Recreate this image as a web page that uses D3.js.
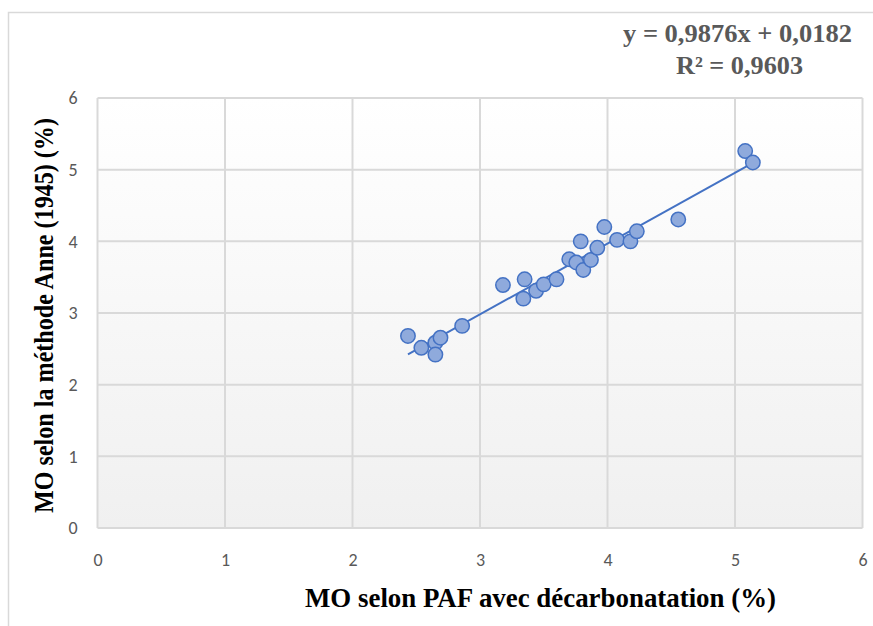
<!DOCTYPE html>
<html>
<head>
<meta charset="utf-8">
<script src="https://cdn.jsdelivr.net/npm/d3@7"></script>
<style>
  body { margin: 0; background: #fff; }
  svg { display: block; }
</style>
</head>
<body>
<svg id="chart"></svg>
<script>
// MO selon PAF avec décarbonatation (%)
const pafValues = [2.435, 2.54, 2.65, 2.69, 2.65, 2.86, 3.18, 3.35, 3.34, 3.44, 3.50, 3.60, 3.70,
  3.755, 3.81, 3.87, 3.79, 3.92, 3.975, 4.075, 4.18, 4.23, 4.555, 5.08, 5.14];
// MO selon la méthode Anne (1945) (%)
const anneValues = [2.68, 2.515, 2.585, 2.655, 2.42, 2.82, 3.39, 3.47, 3.20, 3.31, 3.40, 3.47, 3.75,
  3.705, 3.60, 3.74, 4.00, 3.91, 4.20, 4.02, 4.00, 4.14, 4.305, 5.26, 5.10];
const xTicks = [0, 1, 2, 3, 4, 5, 6];
const yTicks = [0, 1, 2, 3, 4, 5, 6];
const slope = 0.9876;
const intercept = 0.0182;
const eqLines = ['y = 0,9876x + 0,0182', 'R² = 0,9603'];

const W = 873, H = 626;
const plot = { left: 97.5, right: 862.5, top: 98, bottom: 528 };
const serif = '"Liberation Serif", "Times New Roman", serif';

const svg = d3.select('#chart').attr('width', W).attr('height', H);

// chart area border
svg.append('rect')
  .attr('x', 8.5).attr('y', 12.5)
  .attr('width', W + 20).attr('height', H + 20)
  .attr('fill', '#fff')
  .attr('stroke', '#d9d9d9')
  .attr('stroke-width', 1.5);

const defs = svg.append('defs');
const grad = defs.append('linearGradient')
  .attr('id', 'bg').attr('x1', 0).attr('y1', 0).attr('x2', 0).attr('y2', 1);
grad.append('stop').attr('offset', '0%').attr('stop-color', '#ffffff');
grad.append('stop').attr('offset', '100%').attr('stop-color', '#f0f0f0');

const x = d3.scaleLinear().domain([0, 6]).range([plot.left, plot.right]);
const y = d3.scaleLinear().domain([0, 6]).range([plot.bottom, plot.top]);

// plot background
svg.append('rect')
  .attr('x', plot.left).attr('y', plot.top)
  .attr('width', plot.right - plot.left).attr('height', plot.bottom - plot.top)
  .attr('fill', 'url(#bg)');

// grid
svg.append('g')
  .selectAll('line')
  .data(xTicks)
  .enter()
  .append('line')
  .attr('x1', d => x(d)).attr('x2', d => x(d))
  .attr('y1', plot.top).attr('y2', plot.bottom)
  .attr('stroke', '#d9d9d9').attr('stroke-width', 2);

svg.append('g')
  .selectAll('line')
  .data(yTicks)
  .enter()
  .append('line')
  .attr('x1', plot.left).attr('x2', plot.right)
  .attr('y1', d => y(d)).attr('y2', d => y(d))
  .attr('stroke', '#d9d9d9').attr('stroke-width', 2);

// axes (labels only, Excel style)
const xAxis = svg.append('g')
  .attr('transform', `translate(0, ${plot.bottom})`)
  .call(d3.axisBottom(x).tickValues(xTicks).tickSize(0).tickPadding(25).tickFormat(d3.format('d')));
const yAxis = svg.append('g')
  .attr('transform', `translate(${plot.left}, 0)`)
  .call(d3.axisLeft(y).tickValues(yTicks).tickSize(0).tickPadding(20).tickFormat(d3.format('d')));

[xAxis, yAxis].forEach(a => {
  a.select('.domain').remove();
  a.selectAll('text')
    .attr('fill', '#595959')
    .style('font-family', 'Carlito, "Open Sans", "Liberation Sans", sans-serif')
    .style('font-size', '18px');
});

// trendline
const xMin = d3.min(pafValues), xMax = d3.max(pafValues);
svg.append('line')
  .attr('x1', x(xMin)).attr('y1', y(slope * xMin + intercept))
  .attr('x2', x(xMax)).attr('y2', y(slope * xMax + intercept))
  .attr('stroke', '#4472c4').attr('stroke-width', 2);

// points
const pts = pafValues.map((v, i) => ({ x: v, y: anneValues[i] }));
svg.append('g')
  .selectAll('circle')
  .data(pts)
  .enter()
  .append('circle')
  .attr('cx', d => x(d.x))
  .attr('cy', d => y(d.y))
  .attr('r', 7.2)
  .attr('fill', '#8faadc')
  .attr('stroke', '#4472c4')
  .attr('stroke-width', 1.5);

// axis titles
svg.append('text')
  .attr('x', 540.5).attr('y', 607)
  .attr('text-anchor', 'middle')
  .attr('textLength', 471)
  .attr('lengthAdjust', 'spacingAndGlyphs')
  .style('font-family', serif)
  .style('font-weight', 'bold')
  .style('font-size', '27.5px')
  .attr('fill', '#000')
  .text('MO selon PAF avec décarbonatation (%)');

svg.append('text')
  .attr('transform', 'translate(53, 315.5) rotate(-90)')
  .attr('text-anchor', 'middle')
  .attr('textLength', 395)
  .attr('lengthAdjust', 'spacingAndGlyphs')
  .style('font-family', serif)
  .style('font-weight', 'bold')
  .style('font-size', '27px')
  .attr('fill', '#000')
  .text('MO selon la méthode Anne (1945) (%)');

// equation label
const eqLen = [229, 127];
const eqX = [737.5, 739.5];
svg.append('g')
  .selectAll('text')
  .data(eqLines)
  .enter()
  .append('text')
  .attr('x', (d, i) => eqX[i])
  .attr('y', (d, i) => 41.5 + i * 32)
  .attr('text-anchor', 'middle')
  .attr('textLength', (d, i) => eqLen[i])
  .attr('lengthAdjust', 'spacingAndGlyphs')
  .style('font-family', serif)
  .style('font-weight', 'bold')
  .style('font-size', '25px')
  .attr('fill', '#595959')
  .text(d => d);
</script>
</body>
</html>
